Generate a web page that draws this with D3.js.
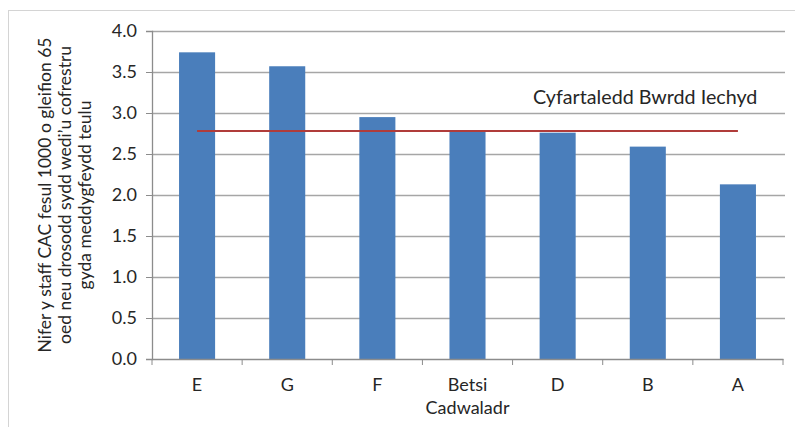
<!DOCTYPE html>
<html><head><meta charset="utf-8">
<script src="https://cdn.jsdelivr.net/npm/d3@7"></script>
<style>
html,body{margin:0;padding:0;background:#fff;}
svg text{font-family:Lato,"Open Sans",sans-serif;fill:#262626;}
</style></head>
<body><svg id="c" width="795" height="427"></svg>
<script>
const categories = [["E"],["G"],["F"],["Betsi","Cadwaladr"],["D"],["B"],["A"]];
const categoryKeys = ["E","G","F","Betsi Cadwaladr","D","B","A"];
const values = [3.74, 3.57, 2.95, 2.79, 2.76, 2.59, 2.13];
const average = 2.78;
const averageLabel = "Cyfartaledd Bwrdd Iechyd";
const yTicks = [0,0.5,1,1.5,2,2.5,3,3.5,4];
const yLabelLines = ["Nifer y staff CAC fesul 1000 o gleifion 65","oed neu drosodd sydd wedi\u2019u cofrestru","gyda meddygfeydd teulu"];

const svg = d3.select("#c");
const L = 152, R = 783, T = 31, B = 359;

svg.append("rect").attr("x",8.5).attr("y",10.5).attr("width",800).attr("height",430)
  .attr("fill","none").attr("stroke","#d4d4d4");

const x = d3.scaleBand().domain(categoryKeys).range([L,R]).paddingInner(0.6).paddingOuter(0.3);
const y = d3.scaleLinear().domain([0,4]).range([B,T]);

svg.append("g").selectAll("line").data(yTicks.filter(d=>d>0)).join("line")
  .attr("x1",L).attr("x2",R+2).attr("y1",d=>Math.round(y(d))+0.5).attr("y2",d=>Math.round(y(d))+0.5)
  .attr("stroke","#a6a6a6").attr("stroke-width",1.3);

svg.append("g").selectAll("rect").data(values).join("rect")
  .attr("x",(d,i)=>x(categoryKeys[i])).attr("width",x.bandwidth())
  .attr("y",d=>y(d)).attr("height",d=>B-y(d)).attr("fill","#4a7ebb");

const ya = svg.append("g").attr("transform",`translate(${L},0)`)
  .call(d3.axisLeft(y).tickValues(yTicks).tickFormat(d3.format(".1f")).tickSize(6).tickPadding(9));
ya.select(".domain").attr("stroke","#8c8c8c").attr("stroke-width",1.3);
ya.selectAll(".tick line").attr("stroke","#8c8c8c");
ya.selectAll(".tick text").attr("font-size",18).attr("fill","#333").style("font-family","Lato,sans-serif");

const xa = svg.append("g").attr("transform",`translate(0,${B})`)
  .call(d3.axisBottom(x).tickSize(0).tickFormat(""));
xa.select(".domain").attr("stroke","#8c8c8c").attr("stroke-width",1.3);
const step = x.step();
const bounds = d3.range(categoryKeys.length+1).map(i=>L + i*step);
svg.append("g").selectAll("line").data(bounds).join("line")
  .attr("x1",d=>d).attr("x2",d=>d).attr("y1",B).attr("y2",B+6).attr("stroke","#8c8c8c");

const xl = svg.append("g").selectAll("text").data(categories).join("text")
  .attr("text-anchor","middle").attr("font-size",18).attr("fill","#333")
  .attr("transform",(d,i)=>`translate(${x(categoryKeys[i])+x.bandwidth()/2},391)`);
xl.each(function(d){
  const t = d3.select(this);
  d.forEach((s,j)=>t.append("tspan").attr("x",0).attr("dy",j?23:0).text(s));
});

const x0 = x(categoryKeys[0])+x.bandwidth()/2, x1 = x(categoryKeys[categoryKeys.length-1])+x.bandwidth()/2;
svg.append("line").attr("x1",x0).attr("x2",x1).attr("y1",y(average)).attr("y2",y(average))
  .attr("stroke","#b03c3a").attr("stroke-width",2);
svg.append("text").attr("x",533).attr("y",104).attr("font-size",19.7).attr("fill","#222").text(averageLabel);

const yl = svg.append("text").attr("transform","translate(0,195) rotate(-90)").attr("text-anchor","middle")
  .attr("font-size",17.5).attr("fill","#222");
yLabelLines.forEach((s,j)=>yl.append("tspan").attr("x",0).attr("y",51 + j*20).text(s));
</script></body></html>
